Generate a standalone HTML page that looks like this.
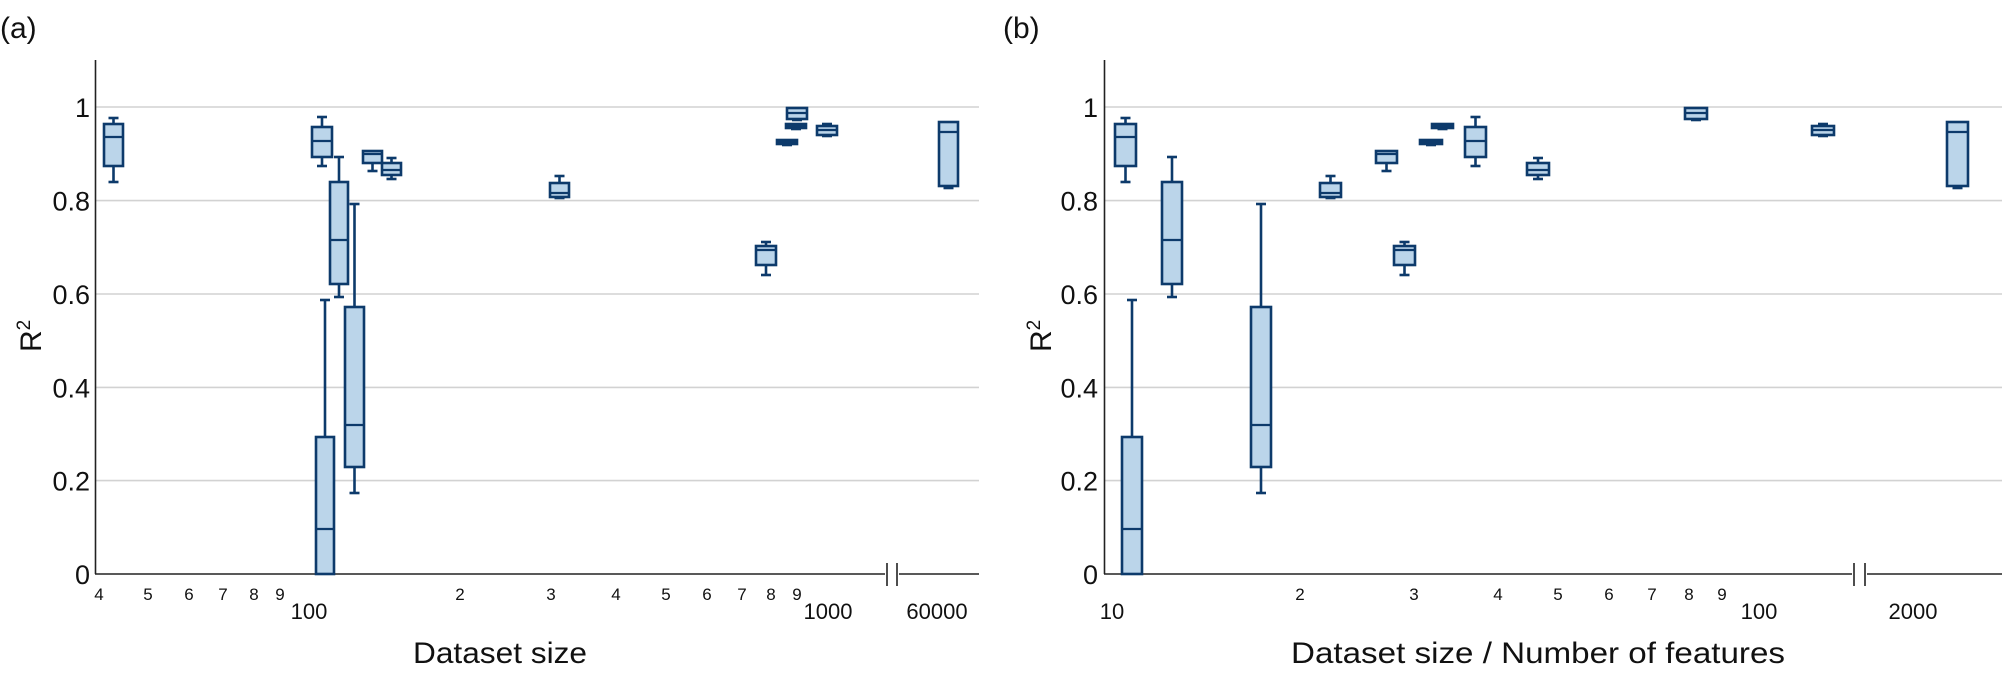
<!DOCTYPE html>
<html><head><meta charset="utf-8"><style>
html,body{margin:0;padding:0;background:#fff;}
svg{display:block;font-family:"Liberation Sans",sans-serif;}
</style></head><body>
<svg id="s" width="2006" height="691" viewBox="0 0 2006 691" xmlns="http://www.w3.org/2000/svg">
<g stroke="#d2d2d2" stroke-width="1.6">
<line x1="96" y1="107" x2="979" y2="107"/><line x1="96" y1="200.6" x2="979" y2="200.6"/><line x1="96" y1="294" x2="979" y2="294"/><line x1="96" y1="387.4" x2="979" y2="387.4"/><line x1="96" y1="480.6" x2="979" y2="480.6"/>
<line x1="1104" y1="107" x2="2002" y2="107"/><line x1="1104" y1="200.6" x2="2002" y2="200.6"/><line x1="1104" y1="294" x2="2002" y2="294"/><line x1="1104" y1="387.4" x2="2002" y2="387.4"/><line x1="1104" y1="480.6" x2="2002" y2="480.6"/>
</g>
<g stroke="#222" stroke-width="1.6" fill="none">
<line x1="95.5" y1="60" x2="95.5" y2="574"/>
<line x1="95" y1="574" x2="885" y2="574"/><line x1="899" y1="574" x2="979" y2="574"/>
<line x1="887" y1="563" x2="887" y2="586"/><line x1="897" y1="563" x2="897" y2="586"/>
<line x1="1104.5" y1="60" x2="1104.5" y2="574"/>
<line x1="1104" y1="574" x2="1852" y2="574"/><line x1="1867" y1="574" x2="2002" y2="574"/>
<line x1="1854" y1="563" x2="1854" y2="586"/><line x1="1865" y1="563" x2="1865" y2="586"/>
</g>
<g id="boxes" stroke="#0d3a6b" stroke-width="2.6" fill="#bbd5ea"></g>
<g font-size="27" fill="#111" text-anchor="end">
<text x="90" y="117">1</text><text x="90" y="210.6">0.8</text><text x="90" y="304">0.6</text><text x="90" y="397.4">0.4</text><text x="90" y="490.6">0.2</text><text x="90" y="584">0</text>
<text x="1098" y="117">1</text><text x="1098" y="210.6">0.8</text><text x="1098" y="304">0.6</text><text x="1098" y="397.4">0.4</text><text x="1098" y="490.6">0.2</text><text x="1098" y="584">0</text>
</g>
<g font-size="17" fill="#111" text-anchor="middle">
<text x="99" y="600">4</text><text x="148" y="600">5</text><text x="189" y="600">6</text><text x="223" y="600">7</text><text x="254" y="600">8</text><text x="280" y="600">9</text>
<text x="460" y="600">2</text><text x="551" y="600">3</text><text x="616" y="600">4</text><text x="666" y="600">5</text><text x="707" y="600">6</text><text x="742" y="600">7</text><text x="771" y="600">8</text><text x="797" y="600">9</text>
<text x="1300" y="600">2</text><text x="1414" y="600">3</text><text x="1498" y="600">4</text><text x="1558" y="600">5</text><text x="1609" y="600">6</text><text x="1652" y="600">7</text><text x="1689" y="600">8</text><text x="1722" y="600">9</text>
</g>
<g font-size="22" fill="#111" text-anchor="middle">
<text x="309" y="619">100</text><text x="828" y="619">1000</text><text x="937" y="619">60000</text>
<text x="1112" y="619">10</text><text x="1759" y="619">100</text><text x="1913" y="619">2000</text>
</g>
<g font-size="30" fill="#111" text-anchor="middle">
<text x="500" y="663" textLength="174" lengthAdjust="spacingAndGlyphs">Dataset size</text>
<text x="1538" y="663" textLength="494" lengthAdjust="spacingAndGlyphs">Dataset size / Number of features</text>
</g>
<g font-size="30" fill="#111">
<text x="0" y="38">(a)</text><text x="1003" y="38">(b)</text>
<text transform="translate(41,352) rotate(-90)">R<tspan font-size="19" dy="-11">2</tspan></text>
<text transform="translate(1051,352) rotate(-90)">R<tspan font-size="19" dy="-11">2</tspan></text>
</g>
</svg>
<script>
var g=document.getElementById('boxes'),NS='http://www.w3.org/2000/svg';
function el(t,a){var e=document.createElementNS(NS,t);for(var k in a)e.setAttribute(k,a[k]);g.appendChild(e);return e;}
function box(x,w,wt,q3,med,q1,lo){var cx=x+w/2;
 if(wt!=null&&wt<q3){el('line',{x1:cx,y1:wt,x2:cx,y2:q3});el('line',{x1:cx-5,y1:wt,x2:cx+5,y2:wt});}
 el('rect',{x:x,y:q3,width:w,height:Math.max(q1-q3,1)});
 el('line',{x1:x,y1:med,x2:x+w,y2:med,'stroke-width':2.2});
 if(lo!=null&&lo>q1){el('line',{x1:cx,y1:q1,x2:cx,y2:lo});el('line',{x1:cx-5,y1:lo,x2:cx+5,y2:lo});}}
var V={
 A1:[118,124,137,166,182],A2:[117,127,141,157,166],A3:[300,437,529,574,null],A4:[157,182,240,284,297],
 A5:[204,307,425,467,493],A6:[null,151,154,163,171],A7:[158,163,170,175,179],A8:[176,183,193,197,198],
 A9:[242,246,250,265,275],A10:[null,140,142,144,145],A11:[null,124,126,128,129],A12:[null,108,113,119,120],
 A13:[124,126,130,135,136],A14:[null,122,132,186,188]};
function B(k,x,w){var v=V[k];box(x,w,v[0],v[1],v[2],v[3],v[4]);}
B('A1',104,19);B('A2',312,20);B('A3',316,18);B('A4',330,18);B('A5',345,19);B('A6',363,19);B('A7',382,19);
B('A8',550,19);B('A9',756,20);B('A10',777,20);B('A11',786,20);B('A12',787,20);B('A13',817,20);B('A14',939,19);
B('A1',1115,21);B('A3',1122,20);B('A4',1162,20);B('A5',1251,20);B('A8',1320,21);B('A6',1376,21);B('A9',1394,21);
B('A10',1420,22);B('A11',1432,21);B('A2',1465,21);B('A7',1527,22);B('A12',1685,22);B('A13',1812,22);B('A14',1947,21);
</script>
</body></html>
